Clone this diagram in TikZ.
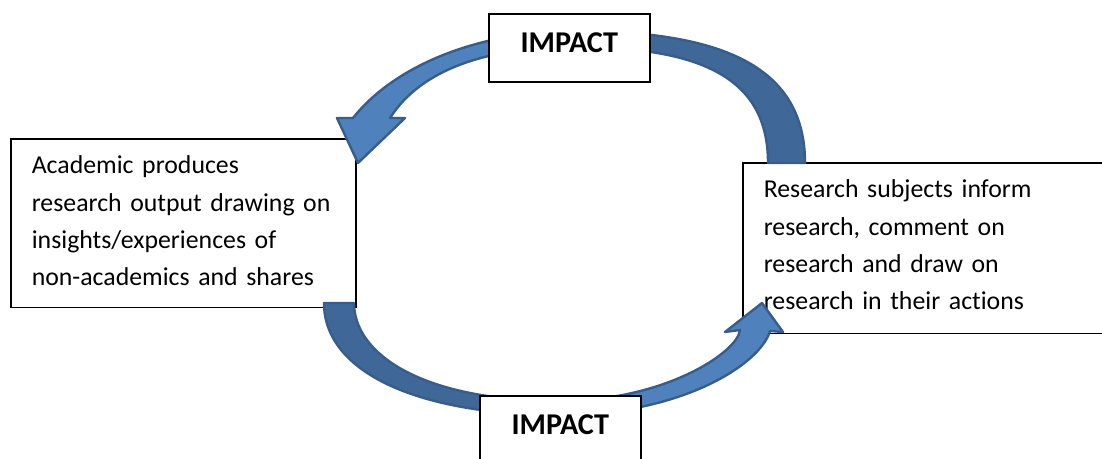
\documentclass[tikz,border=0pt]{standalone}
\usepackage{fontspec}
\setmainfont[Ligatures=NoCommon]{Carlito}
\definecolor{arrowlight}{HTML}{4F81BD}
\definecolor{arrowdark}{HTML}{3F6797}
\definecolor{arrowline}{HTML}{385D8A}
\begin{document}
\begin{tikzpicture}[x=0.5pt,y=-0.5pt,
  sidebox/.style={draw=black, line width=0.8pt, fill=white, anchor=north west,
    inner xsep=10.5pt, inner ysep=0pt, align=left,
    font=\fontsize{12.9}{18.65}\selectfont},
  impactbox/.style={draw=black, line width=0.8pt, fill=white, anchor=north west,
    inner xsep=0pt, inner ysep=0pt, minimum width=80.5pt,
    text height=19.35pt, text depth=14.65pt,
    font=\fontsize{15.1}{18}\selectfont\bfseries},
  backface/.style={fill=arrowdark, draw=arrowline, line width=1.2pt, line join=round},
  frontface/.style={fill=arrowlight, draw=arrowline, line width=1.2pt, line join=round}]
\useasboundingbox (0,0) rectangle (1102,459);
\clip (0,0) rectangle (1102,459);
\fill[white] (0,0) rectangle (1102,459);

% side boxes
\node[sidebox, text width=151.5pt] (academic) at (10,138)
  {\rule{0pt}{17.5pt}Academic produces\\research output drawing on\\insights/experiences of\\non-academics and shares\rule[-11pt]{0pt}{11pt}};
\node[sidebox, text width=165.5pt] (subjects) at (742,162)
  {\rule{0pt}{17.5pt}Research subjects inform\\research, comment on\\research and draw on\\research in their actions\rule[-12pt]{0pt}{12pt}};

% top curved arrow (back face, then front face with head)
\path[backface] (805,163) .. controls (805,68) and (725,31) .. (575,31)
  -- (575,47) .. controls (710,47) and (768,83) .. (768,163) -- cycle;
\path[frontface] (575,47) .. controls (490,47) and (422,68) .. (390,118)
  -- (405,118) -- (358,163) -- (337,118) -- (353,118)
  .. controls (395,65) and (480,31) .. (575,31) -- cycle;

% bottom curved arrow
\path[backface] (324,303) .. controls (324,373) and (420,415) .. (560,415)
  -- (560,401) .. controls (420,401) and (354,353) .. (354,303) -- cycle;
\path[frontface] (560,401) .. controls (665,401) and (738,352) .. (740,330)
  -- (725,332) -- (762,303) -- (783,332) -- (770,331)
  .. controls (760,365) and (680,415) .. (560,415) -- cycle;

% impact boxes
\node[impactbox] (impacttop) at (488,13) {IMPACT};
\node[impactbox] (impactbottom) at (479,395) {IMPACT};
\end{tikzpicture}
\end{document}
